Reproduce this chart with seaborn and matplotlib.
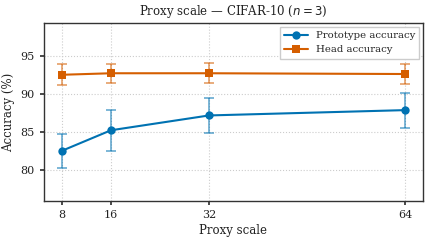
import numpy as np
import pandas as pd
import matplotlib
matplotlib.use("Agg")
import matplotlib.pyplot as plt
import seaborn as sns

scales = [8, 16, 32, 64]
proto_mean = [82.5, 85.2, 87.15, 87.85]
proto_err = [2.2, 2.7, 2.3, 2.3]
head_mean = [92.5, 92.7, 92.7, 92.6]
head_err = [1.4, 1.25, 1.3, 1.35]
series_names = ["Prototype accuracy", "Head accuracy"]

sns.set_theme(style="ticks")
plt.rcParams["font.family"] = ["DejaVu Serif"]
plt.rcParams["mathtext.fontset"] = "dejavusans"

fig = plt.figure(figsize=(4.3, 2.43), dpi=100)
ax = fig.add_axes([0.102, 0.173, 0.882, 0.732])

df = pd.DataFrame({
    "scale": scales * 2,
    "acc": proto_mean + head_mean,
    "err": proto_err + head_err,
    "series": [series_names[0]] * 4 + [series_names[1]] * 4,
})
colors = {"Prototype accuracy": "#0072B2", "Head accuracy": "#D55E00"}
markers = {"Prototype accuracy": "o", "Head accuracy": "s"}

for name in series_names:
    sub = df[df.series == name]
    ax.errorbar(sub.scale, sub.acc, yerr=sub.err, fmt="none",
                ecolor=colors[name], alpha=0.6, capsize=3.5, elinewidth=1.2,
                capthick=1.2, zorder=2)
sns.lineplot(data=df, x="scale", y="acc", hue="series", style="series",
             palette=colors, markers=markers, dashes=False, markersize=6,
             linewidth=1.5, markeredgewidth=0, ax=ax, zorder=3)

ax.set_xlim(5.05, 66.95)
ax.set_ylim(75.9, 99.3)
ax.set_xticks(scales)
ax.set_xticklabels([str(s) for s in scales])
ax.set_yticks([80, 85, 90, 95])
ax.grid(True, linestyle=":", color="#cccccc", linewidth=0.8)
ax.set_axisbelow(True)
for sp in ax.spines.values():
    sp.set_visible(True)
    sp.set_color("#333333")
    sp.set_linewidth(1.0)
ax.tick_params(labelsize=8, length=3, color="#333333", labelcolor="#222222")
ax.set_xlabel("Proxy scale", fontsize=8.5, color="#222222", labelpad=3)
ax.set_ylabel("Accuracy (%)", fontsize=8.5, color="#222222")
ax.set_title("Proxy scale — CIFAR-10 ($n = 3$)", fontsize=8.5, color="#222222")
leg = ax.legend(loc="upper right", fontsize=7.3, frameon=True, fancybox=False,
                edgecolor="#cccccc", framealpha=1, title=None,
                borderaxespad=0.4, handlelength=2.3)

fig.savefig("out.png", dpi=100)
